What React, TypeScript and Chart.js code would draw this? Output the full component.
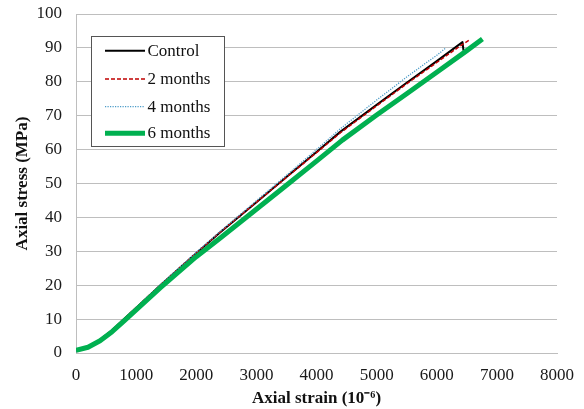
import { useEffect, useRef } from 'react';
import { Chart, registerables } from 'chart.js';

Chart.register(...registerables);

const seriesNames = ['Control', '2 months', '4 months', '6 months'];

const controlStrain = [0, 200, 400, 600, 800, 1000, 1400, 2000, 2400, 3000, 3500, 4000, 4400, 5000, 5500, 6000, 6428, 6445];
const controlStress = [0.5, 1.8, 3.9, 6.7, 10.0, 13.3, 19.9, 29.4, 35.6, 44.5, 51.9, 59.3, 65.3, 73.2, 79.7, 86.1, 91.7, 89.2];

const twoMonthStrain = [0, 200, 400, 600, 800, 1000, 1400, 2000, 2400, 3000, 3500, 4000, 4400, 5000, 5500, 6000, 6400, 6560];
const twoMonthStress = [0.6, 1.9, 4.0, 6.8, 10.1, 13.4, 20.0, 29.5, 35.7, 44.5, 51.8, 59.1, 65.0, 72.9, 79.4, 85.7, 90.7, 92.5];

const fourMonthStrain = [0, 200, 400, 600, 800, 1000, 1400, 2000, 2400, 3000, 3500, 4000, 4400, 5000, 5500, 5800, 6000, 6150];
const fourMonthStress = [0.5, 1.8, 3.9, 6.7, 10.0, 13.4, 20.1, 29.7, 35.9, 44.9, 52.4, 60.0, 66.2, 74.6, 81.4, 85.3, 87.8, 90.0];

const sixMonthStrain = [0, 200, 400, 600, 800, 1000, 1400, 2000, 2400, 3000, 3500, 4000, 4430, 5000, 5500, 6000, 6500, 6760];
const sixMonthStress = [0.8, 1.7, 3.6, 6.3, 9.5, 12.7, 19.2, 28.4, 33.9, 42.4, 49.5, 56.6, 62.8, 70.2, 76.5, 82.8, 89.2, 92.6];

const xTitle = 'Axial strain (10\u207B\u2076)';
const yTitle = 'Axial stress (MPa)';

const toPoints = (xs: number[], ys: number[]) => xs.map((x, i) => ({ x, y: ys[i] }));

const legendPlugin = {
  id: 'boxLegend',
  afterDraw(chart: any) {
    const ctx = chart.ctx as CanvasRenderingContext2D;
    const left = 91.5;
    const top = 36.5;
    const w = 133;
    const h = 110;
    ctx.save();
    ctx.fillStyle = '#ffffff';
    ctx.fillRect(left, top, w, h);
    ctx.strokeStyle = '#555555';
    ctx.lineWidth = 1;
    ctx.strokeRect(left, top, w, h);
    const rows = [50.7, 79, 106.7, 133.3];
    [0, 1, 2, 3].forEach((di, r) => {
      const ds = chart.data.datasets[di];
      const y = rows[r];
      ctx.beginPath();
      ctx.strokeStyle = ds.borderColor;
      ctx.lineWidth = ds.borderWidth;
      ctx.setLineDash(ds.borderDash || []);
      ctx.lineCap = 'butt';
      ctx.moveTo(105, y);
      ctx.lineTo(145, y);
      ctx.stroke();
      ctx.setLineDash([]);
      ctx.fillStyle = '#111111';
      ctx.font = '17px "Liberation Serif"';
      ctx.textBaseline = 'middle';
      ctx.textAlign = 'left';
      ctx.fillText(ds.label, 147.5, y + 0.5);
    });
    ctx.restore();
  },
};

export default function App() {
  const ref = useRef<HTMLCanvasElement | null>(null);

  useEffect(() => {
    if (!ref.current) return;
    const common = { showLine: true, pointRadius: 0, tension: 0, borderJoinStyle: 'round' };
    const chart = new Chart(ref.current, {
      type: 'scatter',
      data: {
        datasets: [
          {
            ...common,
            label: seriesNames[0],
            data: toPoints(controlStrain, controlStress),
            borderColor: '#000000',
            borderWidth: 2,
            order: 4,
          },
          {
            ...common,
            label: seriesNames[1],
            data: toPoints(twoMonthStrain, twoMonthStress),
            borderColor: '#C00000',
            borderWidth: 1.5,
            borderDash: [4, 2],
            order: 3,
          },
          {
            ...common,
            label: seriesNames[2],
            data: toPoints(fourMonthStrain, fourMonthStress),
            borderColor: '#4A9BC8',
            borderWidth: 1.3,
            borderDash: [1.2, 1.3],
            order: 2,
          },
          {
            ...common,
            label: seriesNames[3],
            data: toPoints(sixMonthStrain, sixMonthStress),
            borderColor: '#00B050',
            borderWidth: 5,
            order: 1,
          },
        ],
      } as any,
      options: {
        animation: false,
        responsive: false,
        maintainAspectRatio: false,
        layout: { padding: { left: 0, right: 27, top: 14, bottom: 0 } },
        plugins: {
          legend: { display: false },
          tooltip: { enabled: false },
        },
        scales: {
          x: {
            type: 'linear',
            min: 0,
            max: 8000,
            ticks: {
              stepSize: 1000,
              padding: 12,
              color: '#1a1a1a',
              font: { family: '"Liberation Serif"', size: 17 },
              maxRotation: 0,
              callback: (v: any) => String(v),
            },
            grid: { display: false, drawTicks: false },
            border: { display: true, color: '#BEBEBE', width: 1 },
            title: {
              display: true,
              text: xTitle,
              color: '#111111',
              font: { family: '"Liberation Serif"', size: 17, weight: 'bold' },
              padding: { top: 0, bottom: 0 },
            },
            afterFit: (scale: any) => {
              scale.height = 56;
              scale.paddingLeft = 0;
              scale.paddingRight = 0;
            },
          },
          y: {
            type: 'linear',
            min: 0,
            max: 100,
            ticks: {
              stepSize: 10,
              padding: 14,
              color: '#1a1a1a',
              font: { family: '"Liberation Serif"', size: 17 },
              callback: (v: any) => String(v),
            },
            grid: { color: '#BEBEBE', lineWidth: 1, drawTicks: false },
            border: { display: true, color: '#BEBEBE', width: 1 },
            title: {
              display: true,
              text: yTitle,
              color: '#111111',
              font: { family: '"Liberation Serif"', size: 17, weight: 'bold' },
              padding: { top: 12, bottom: 0 },
            },
            afterFit: (scale: any) => {
              scale.width = 76;
              scale.paddingTop = 0;
              scale.paddingBottom = 0;
            },
          },
        },
      } as any,
      plugins: [legendPlugin],
    });
    return () => chart.destroy();
  }, []);

  return (
    <div style={{ position: 'absolute', left: 0, top: 0, width: 584, height: 409, background: '#ffffff' }}>
      <canvas ref={ref} width={584} height={409} style={{ width: 584, height: 409 }} />
    </div>
  );
}
